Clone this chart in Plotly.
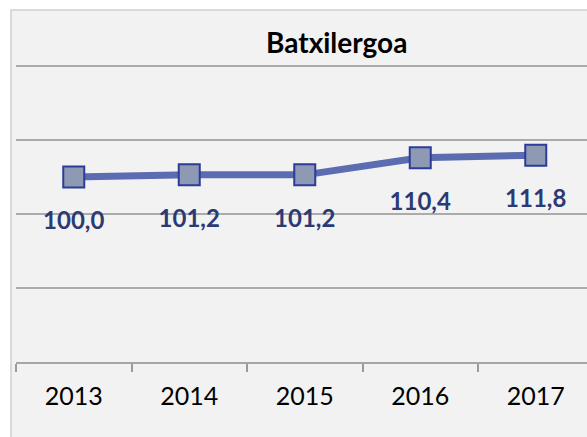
import plotly.graph_objects as go

years = ["2013", "2014", "2015", "2016", "2017"]
values = [100.0, 101.2, 101.2, 110.4, 111.8]
labels = ["100,0", "101,2", "101,2", "110,4", "111,8"]
title_text = "Batxilergoa"

W, H = 587, 437
L, R, T, B = 16, 0, 65, 75
pw = W - L - R
ph = H - T - B
cat_w = 115.5  # px per category

fig = go.Figure()
fig.add_trace(go.Scatter(
    x=years, y=values, mode="lines+markers",
    line=dict(color="#5B6DB0", width=7),
    marker=dict(symbol="square", size=21, color="#8E99B4",
                line=dict(color="#2D3C98", width=2)),
    cliponaxis=False, hoverinfo="skip",
))
# data labels (invisible larger markers give the label offset)
fig.add_trace(go.Scatter(
    x=years, y=values, mode="markers+text",
    text=labels, textposition="bottom center",
    textfont=dict(family="Lato", size=24, color="#2B3A73", weight="bold"),
    marker=dict(symbol="square", size=53, color="rgba(0,0,0,0)"),
    cliponaxis=False, hoverinfo="skip",
))

# panel background
px2x = lambda p: (p - L) / pw
py2y = lambda p: (H - B - p) / ph
fig.add_shape(type="rect", xref="paper", yref="paper",
              x0=px2x(11), x1=px2x(600), y0=py2y(450), y1=py2y(10),
              fillcolor="#F2F2F2", line=dict(color="#D0D0D0", width=1.5),
              layer="below")

fig.add_annotation(text="<b>" + title_text + "</b>", xref="paper", yref="paper",
                   x=px2x(336), y=py2y(42), showarrow=False,
                   font=dict(family="Lato", size=28, color="#000000"),
                   xanchor="center", yanchor="middle")

x_max = -0.5 + pw / cat_w
fig.update_layout(
    width=W, height=H, margin=dict(l=L, r=R, t=T, b=B, pad=0),
    paper_bgcolor="white", plot_bgcolor="rgba(0,0,0,0)",
    showlegend=False,
    xaxis=dict(type="category", range=[-0.5, x_max], tickson="boundaries",
               ticks="outside", ticklen=8, tickwidth=1.5, tickcolor="#9A9A9A",
               showline=True, linecolor="#A6A6A6", linewidth=1.5,
               showgrid=False, zeroline=False, ticklabelstandoff=11,
               tickfont=dict(family="Lato", size=25, color="#000000")),
    yaxis=dict(range=[0, 160.6], tickvals=[40, 80, 120, 160], showgrid=True,
               gridcolor="#ABABAB", gridwidth=1.5, zeroline=False,
               showticklabels=False, showline=False, ticks=""),
)

fig.write_html("out.html", config={"displayModeBar": False},
               post_script="document.body.style.margin='0';"
                           "document.body.style.overflow='hidden';")
